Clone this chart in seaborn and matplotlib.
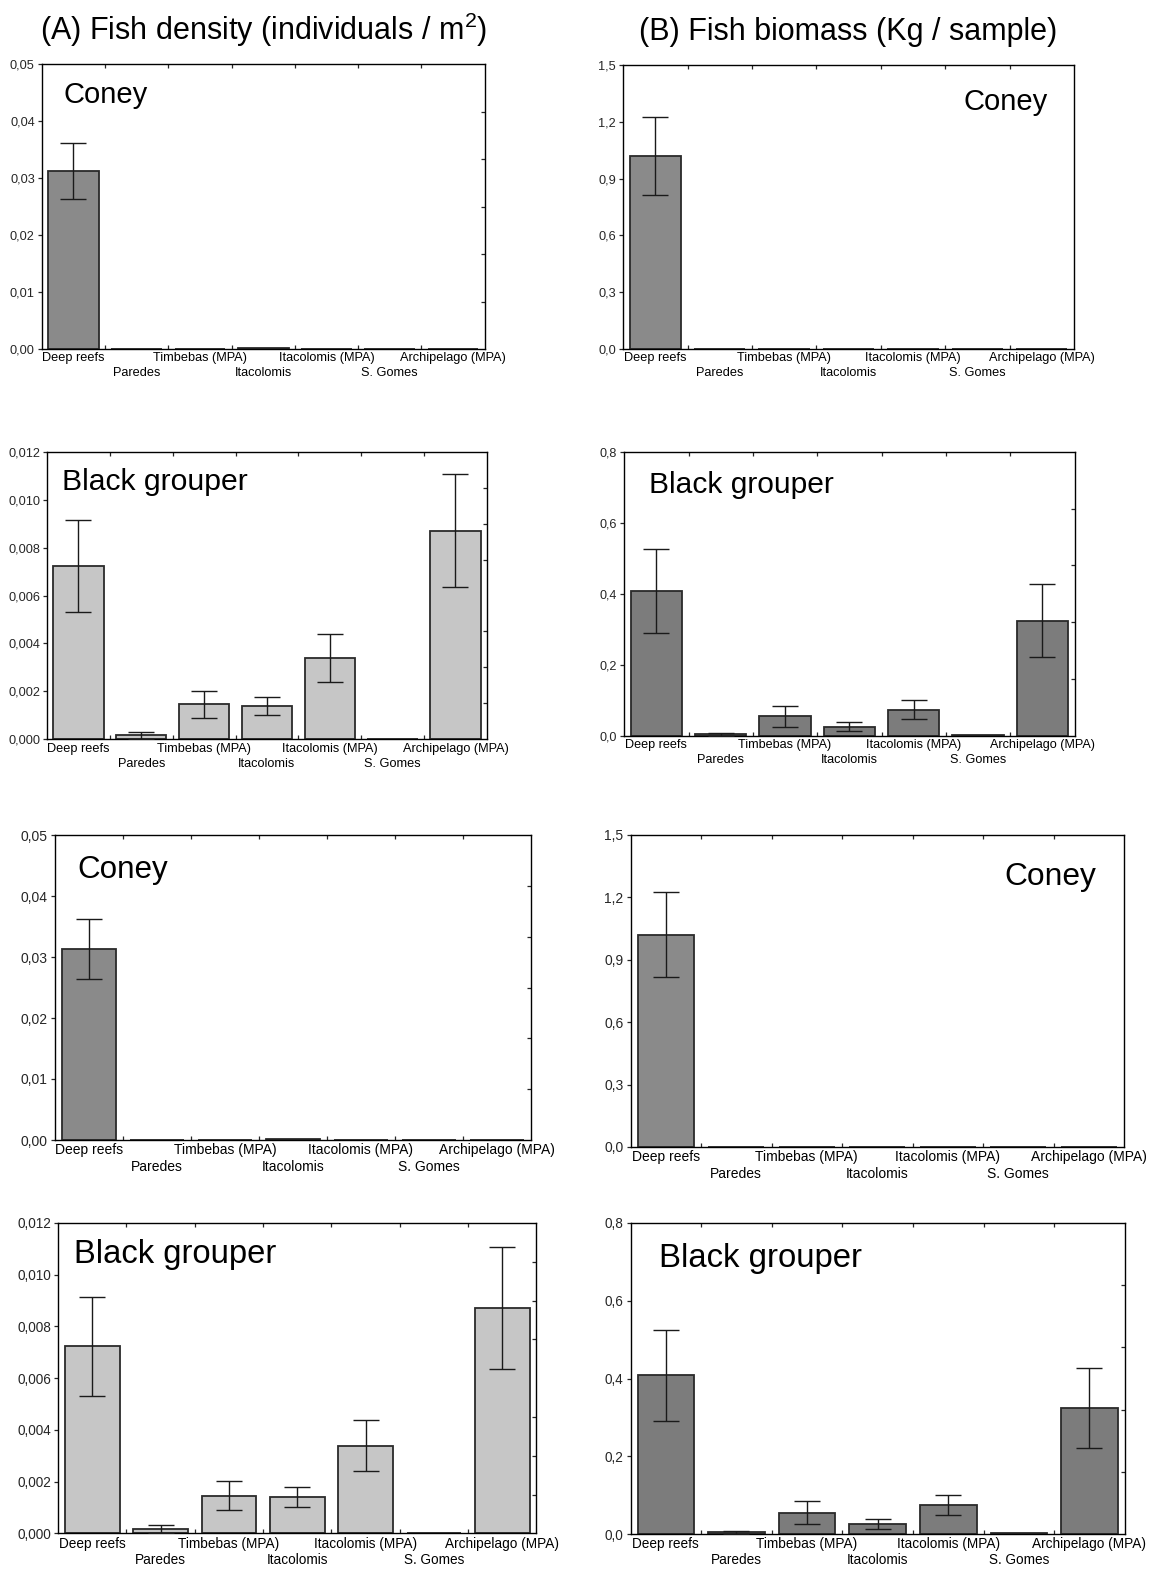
import numpy as np
import pandas as pd
import matplotlib
matplotlib.use("Agg")
import matplotlib.pyplot as plt
import seaborn as sns
from matplotlib.ticker import FuncFormatter

# ---------------- data ----------------
sites = ["Deep reefs", "Paredes", "Timbebas (MPA)", "Itacolomis",
         "Itacolomis (MPA)", "S. Gomes", "Archipelago (MPA)"]

coney_density = [0.0313, 0.0, 0.0, 0.0002, 0.0, 0.0, 0.0]
coney_density_err = [0.0049, 0.0, 0.0, 0.0, 0.0, 0.0, 0.0]

coney_biomass = [1.02, 0.0, 0.0, 0.0, 0.0, 0.0, 0.0]
coney_biomass_err = [0.204, 0.0, 0.0, 0.0, 0.0, 0.0, 0.0]

grouper_density = [0.00723, 0.00016, 0.00146, 0.00139, 0.00339, 0.00003, 0.00870]
grouper_density_err = [0.00191, 0.00016, 0.00057, 0.00039, 0.00099, 0.0, 0.00236]

grouper_biomass = [0.408, 0.005, 0.055, 0.026, 0.074, 0.002, 0.324]
grouper_biomass_err = [0.117, 0.004, 0.029, 0.012, 0.026, 0.0, 0.103]

title_a = r"(A) Fish density (individuals / $\mathregular{m^2}$)"
title_b = "(B) Fish biomass (Kg / sample)"

# ---------------- style ----------------
sns.set_theme(style="ticks")
plt.rcParams["font.family"] = ["Liberation Sans", "DejaVu Sans"]
plt.rcParams["mathtext.fontset"] = "custom"
plt.rcParams["mathtext.rm"] = "Liberation Sans"

W, H = 1158, 1571
fig = plt.figure(figsize=(W / 100, H / 100), dpi=100)


def add_ax(x0, y0, x1, y1):
    return fig.add_axes([x0 / W, 1 - y1 / H, (x1 - x0) / W, (y1 - y0) / H])


def draw(ax, vals, errs, color, ytop, ystep, decimals, right_div,
         label, lx, ly, lha, lsize, tsize):
    df = pd.DataFrame({"site": sites, "value": vals})
    sns.barplot(data=df, x="site", y="value", order=sites, color=color,
                saturation=1, edgecolor="#2a2a2a", linewidth=1.3, width=0.8,
                errorbar=None, ax=ax, zorder=2)
    idx = [i for i, e in enumerate(errs) if e > 0]
    ax.errorbar(x=idx, y=[vals[i] for i in idx], yerr=[errs[i] for i in idx],
                fmt="none", ecolor="#1a1a1a", elinewidth=1.0, capsize=9.5,
                capthick=1.0, zorder=3)
    n = len(sites)
    ax.set_xlim(-0.5, n - 0.5)
    ax.set_ylim(0, ytop)
    ax.set_yticks(np.round(np.arange(0, ytop + ystep / 2, ystep), 6))
    ax.yaxis.set_major_formatter(
        FuncFormatter(lambda v, p: f"{v:.{decimals}f}".replace(".", ",")))
    # first row of category labels (even positions)
    even = list(range(0, n, 2))
    odd = list(range(1, n, 2))
    ax.set_xticks(even)
    ax.set_xticklabels([sites[i] for i in even])
    ax.set_xticks(np.arange(0.5, n - 1), minor=True)
    ax.set_yticks(np.linspace(0, ytop, right_div + 1)[1:-1], minor=True)
    ax.tick_params(axis="x", which="major", length=0, pad=2.5,
                   labelsize=tsize, colors="black")
    ax.tick_params(axis="x", which="minor", bottom=True, top=True,
                   direction="in", length=3, width=0.9)
    ax.tick_params(axis="y", which="major", left=True, right=False,
                   direction="out", length=3, width=0.9, pad=2,
                   labelsize=tsize)
    ax.tick_params(axis="y", which="minor", left=False, right=True,
                   direction="in", length=3, width=0.9)
    # second (staggered) row of category labels (odd positions)
    sec = ax.secondary_xaxis("bottom")
    sec.set_xticks(odd)
    sec.set_xticklabels([sites[i] for i in odd])
    sec.tick_params(axis="x", which="both", length=0, pad=2.5 + tsize * 1.17,
                    labelsize=tsize, colors="black")
    sec.spines["bottom"].set_visible(False)
    for sp in ax.spines.values():
        sp.set_visible(True)
        sp.set_linewidth(1.0)
        sp.set_color("black")
    ax.set_xlabel("")
    ax.set_ylabel("")
    ax.text(lx, ly, label, transform=ax.transAxes, ha=lha, va="baseline",
            fontsize=lsize, color="black")


CONEY_C = "#8a8a8a"
GD_C = "#c6c6c6"
GB_C = "#7c7c7c"

# Row 1
ax1 = add_ax(41.8, 64.3, 484.6, 349)
draw(ax1, coney_density, coney_density_err, CONEY_C, 0.05, 0.01, 2, 6,
     "Coney", 0.050, 0.863, "left", 21, 9.2)
ax2 = add_ax(623.1, 65, 1073.9, 349)
draw(ax2, coney_biomass, coney_biomass_err, CONEY_C, 1.5, 0.3, 1, 5,
     "Coney", 0.943, 0.842, "right", 21, 9.2)

# Row 2
ax3 = add_ax(47, 451.7, 486.9, 739.3)
draw(ax3, grouper_density, grouper_density_err, GD_C, 0.012, 0.002, 3, 8,
     "Black grouper", 0.035, 0.867, "left", 21.7, 9.2)
ax4 = add_ax(624.2, 451.7, 1074.6, 736)
draw(ax4, grouper_biomass, grouper_biomass_err, GB_C, 0.8, 0.2, 1, 5,
     "Black grouper", 0.055, 0.856, "left", 21.6, 9.1)

# Row 3
ax5 = add_ax(54.8, 835, 530.9, 1140)
draw(ax5, coney_density, coney_density_err, CONEY_C, 0.05, 0.01, 2, 6,
     "Coney", 0.048, 0.858, "left", 22.6, 10)
ax6 = add_ax(630.5, 835, 1124, 1147)
draw(ax6, coney_biomass, coney_biomass_err, CONEY_C, 1.5, 0.3, 1, 5,
     "Coney", 0.943, 0.84, "right", 22.9, 10)

# Row 4
ax7 = add_ax(58, 1223, 536.4, 1533.3)
draw(ax7, grouper_density, grouper_density_err, GD_C, 0.012, 0.002, 3, 8,
     "Black grouper", 0.033, 0.871, "left", 23.6, 9.8)
ax8 = add_ax(630.5, 1223, 1124.8, 1534)
draw(ax8, grouper_biomass, grouper_biomass_err, GB_C, 0.8, 0.2, 1, 5,
     "Black grouper", 0.057, 0.858, "left", 23.7, 9.8)

fig.text(263.6 / W, 1 - 40 / H, title_a, ha="center", va="baseline",
         fontsize=22, color="black")
fig.text(847.8 / W, 1 - 40 / H, title_b, ha="center", va="baseline",
         fontsize=22, color="black")

fig.savefig("out.png", dpi=100)
